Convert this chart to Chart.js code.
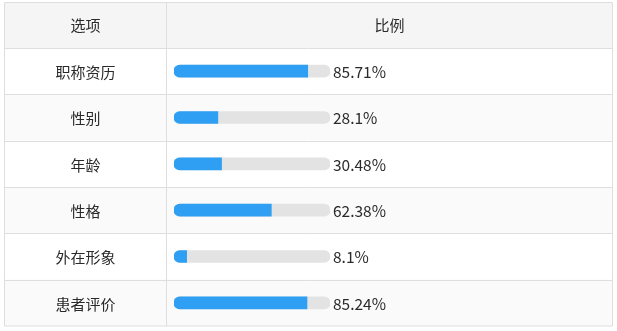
<!DOCTYPE html>
<html>
<head>
<meta charset="utf-8">
<script src="https://cdn.jsdelivr.net/npm/chart.js@4/dist/chart.umd.min.js"></script>
<style>
  html, body { margin: 0; padding: 0; background: #ffffff; }
  #wrap { width: 617px; height: 331px; position: relative; }
</style>
</head>
<body>
<div id="wrap"><canvas id="c"></canvas></div>
<script>
// Survey options and the share of respondents choosing each (percent)
const headerLabels = ['选项', '比例'];
const categories = ['职称资历', '性别', '年龄', '性格', '外在形象', '患者评价'];
const percentValues = [85.71, 28.1, 30.48, 62.38, 8.1, 85.24];
const percentLabels = ['85.71%', '28.1%', '30.48%', '62.38%', '8.1%', '85.24%'];
const trackValues = categories.map(() => 100);

const FONT = '"Noto Sans CJK SC", "Noto Sans", sans-serif';
const TEXT_COLOR = '#2a2a2a';
const LINE_COLOR = '#dedede';

// Table frame: outer box, header row, zebra rows and the column divider
const tablePlugin = {
  id: 'tableFrame',
  beforeDraw(chart) {
    const { ctx, chartArea, scales } = chart;
    const y = scales.y;
    const left = 4.5, right = 612.5, top = 2.5, divider = 166.5;
    const headerBottom = chartArea.top;
    const bottom = chartArea.bottom;
    const n = categories.length;
    const band = (bottom - headerBottom) / n;

    ctx.save();
    // header background
    ctx.fillStyle = '#f5f5f5';
    ctx.fillRect(left, top, right - left, headerBottom - top);
    // zebra rows
    categories.forEach((c, i) => {
      const cy = y.getPixelForValue(i);
      ctx.fillStyle = i % 2 === 1 ? '#fafafa' : '#ffffff';
      ctx.fillRect(left, cy - band / 2, right - left, band);
    });
    // lines
    ctx.strokeStyle = LINE_COLOR;
    ctx.lineWidth = 1;
    ctx.beginPath();
    ctx.rect(left, top, right - left, bottom - top);
    ctx.moveTo(divider, top);
    ctx.lineTo(divider, bottom);
    ctx.moveTo(left, Math.round(headerBottom) + 0.5);
    ctx.lineTo(right, Math.round(headerBottom) + 0.5);
    for (let i = 0; i < n - 1; i++) {
      const ly = Math.round(y.getPixelForValue(i) + band / 2) + 0.5;
      ctx.moveTo(left, ly);
      ctx.lineTo(right, ly);
    }
    ctx.stroke();

    // header text
    ctx.fillStyle = TEXT_COLOR;
    ctx.font = '15px ' + FONT;
    ctx.textAlign = 'center';
    ctx.textBaseline = 'middle';
    const hy = (top + headerBottom) / 2;
    ctx.fillText(headerLabels[0], (left + divider) / 2, hy);
    ctx.fillText(headerLabels[1], (divider + right) / 2, hy);

    // category names
    categories.forEach((c, i) => {
      ctx.fillText(c, (left + divider) / 2, y.getPixelForValue(i) + 1);
    });
    ctx.restore();
  },
  afterDatasetsDraw(chart) {
    const { ctx, scales } = chart;
    ctx.save();
    ctx.fillStyle = TEXT_COLOR;
    ctx.font = '15.5px ' + FONT;
    ctx.textAlign = 'left';
    ctx.textBaseline = 'middle';
    const tx = scales.x.getPixelForValue(100) + 3;
    percentLabels.forEach((t, i) => {
      ctx.fillText(t, tx, scales.y.getPixelForValue(i) + 1);
    });
    ctx.restore();
  }
};

new Chart(document.getElementById('c'), {
  type: 'bar',
  data: {
    labels: categories,
    datasets: [
      {
        label: 'value',
        data: percentValues,
        backgroundColor: '#2e9ff2',
        borderSkipped: false,
        borderRadius: { topLeft: 6, bottomLeft: 6, topRight: 0, bottomRight: 0 },
        barThickness: 12,
        grouped: false,
        order: 1
      },
      {
        label: 'track',
        data: trackValues,
        backgroundColor: '#e3e3e3',
        borderSkipped: false,
        borderRadius: 6,
        barThickness: 12,
        grouped: false,
        order: 2
      }
    ]
  },
  options: {
    indexAxis: 'y',
    responsive: true,
    maintainAspectRatio: false,
    animation: false,
    layout: { padding: { left: 174, right: 287, top: 48, bottom: 5 } },
    scales: {
      x: { display: false, min: 0, max: 100 },
      y: { display: false, offset: true }
    },
    plugins: {
      legend: { display: false },
      tooltip: { enabled: false }
    }
  },
  plugins: [tablePlugin]
});
</script>
</body>
</html>
